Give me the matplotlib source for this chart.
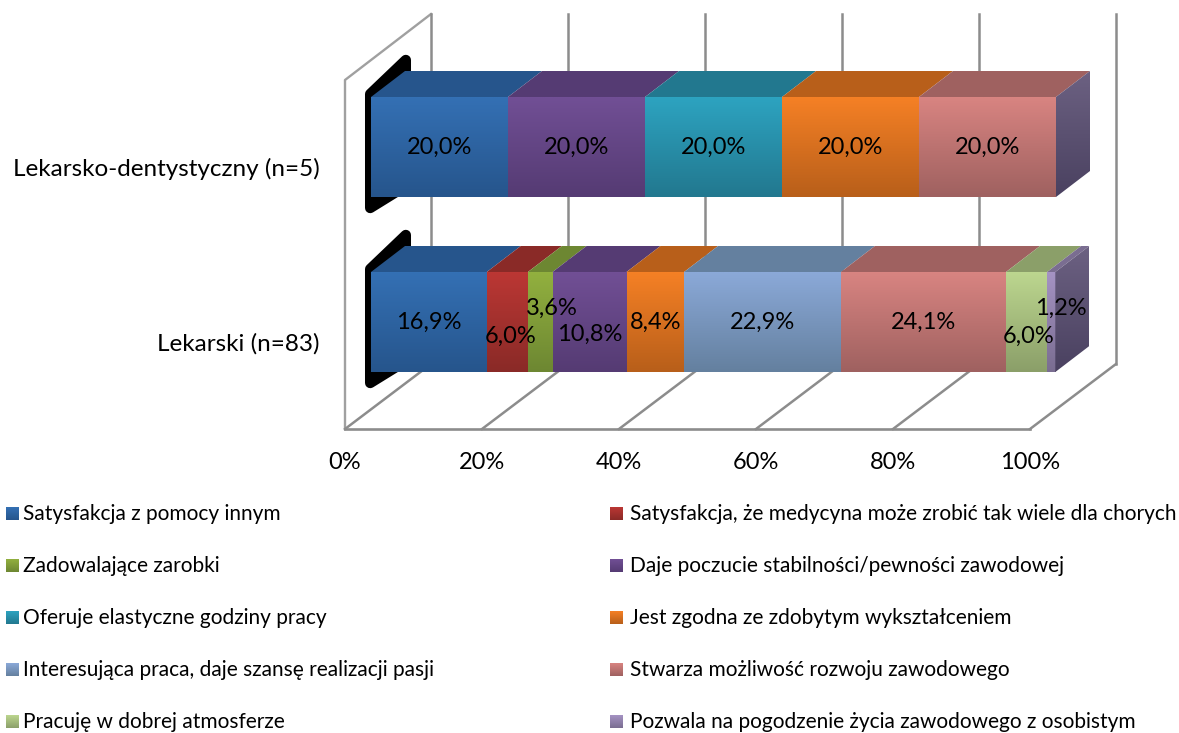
import numpy as np
import matplotlib
matplotlib.use('Agg')
from matplotlib import pyplot as plt
from matplotlib.patches import Polygon

W, H = 1179, 733
FONT = 'Lato'

categories = ['Lekarski (n=83)', 'Lekarsko-dentystyczny (n=5)']
series_names = [
    'Satysfakcja z pomocy innym',
    'Satysfakcja, że medycyna może zrobić tak wiele dla chorych',
    'Zadowalające zarobki',
    'Daje poczucie stabilności/pewności zawodowej',
    'Oferuje elastyczne godziny pracy',
    'Jest zgodna ze zdobytym wykształceniem',
    'Interesująca praca, daje szansę realizacji pasji',
    'Stwarza możliwość rozwoju zawodowego',
    'Pracuję w dobrej atmosferze',
    'Pozwala na pogodzenie życia zawodowego z osobistym',
]
lekarski = [16.9, 6.0, 3.6, 10.8, 0, 8.4, 22.9, 24.1, 6.0, 1.2]
dentysta = [20.0, 0, 0, 20.0, 20.0, 20.0, 0, 20.0, 0, 0]

# face colours: light end of front, dark end of front (also the top face)
light = ['#3470b4', '#bb3734', '#92b03f', '#714f95', '#2da3c0',
         '#f58025', '#8ba9d8', '#d88481', '#bcd68f', '#a593c3']
dark = ['#26558c', '#8a2a27', '#6d8732', '#553b73', '#22788f',
        '#b85f1a', '#64809f', '#9f6160', '#8b9f69', '#7a6d91']
side_light, side_dark = '#6c6182', '#4a4160'

# pixel layout of the fake 3D box
X0, X100, X_RIGHT = 345, 1030, 1120
FLOOR_Y, TOP_Y = 429, 14
PX = (X100 - X0) / 100
ROW_Y0, ROW_STEP = 322, 175
BAR_H = 100 / ROW_STEP
BAR_X0 = 26 / PX
DX_BAR, DY_BAR = 34 / PX, 26 / ROW_STEP
DX_BOX, DY_BOX = 86 / PX, 65 / ROW_STEP

def py(y):
    """ pixel row -> data y """
    return (ROW_Y0 - y) / ROW_STEP

def px(x):
    """ pixel column -> data x """
    return (x - X0) / PX

def rgb(c):
    return np.array(matplotlib.colors.to_rgb(c))

def gradient(ax, c1, c2, extent, clip=None):
    t = np.linspace(0, 1, 64)[:, None]
    img = rgb(c1) * (1 - t[..., None]) + rgb(c2) * t[..., None]
    im = ax.imshow(img, extent=extent, aspect='auto', interpolation='bilinear',
                   origin='upper', zorder=3)
    if clip is not None:
        im.set_clip_path(clip)
    return im

fig = plt.figure(figsize=(W / 100, H / 100), dpi=100)
ax = fig.add_axes([X0 / W, 1 - FLOOR_Y / H, (X_RIGHT - X0) / W, (FLOOR_Y - TOP_Y) / H])

# walls and gridlines
grid = '#8c8c8c'
ybot, ytop = py(FLOOR_Y), py(TOP_Y)
ax.plot([0, 0, DX_BOX], [ybot, py(80), ytop], color='#a0a0a0', lw=1.7, zorder=1, clip_on=False)
ax.plot([0, 100], [ybot, ybot], color=grid, lw=1.9, zorder=1, clip_on=False)
for v in range(0, 101, 20):
    ax.plot([v, v + DX_BOX], [ybot, ybot + DY_BOX], color=grid, lw=1.8, zorder=1, clip_on=False)
    ax.plot([v + DX_BOX, v + DX_BOX], [ybot + DY_BOX, ytop], color=grid, lw=1.8, zorder=1, clip_on=False)

rows = [dentysta, lekarski]
row_pos = [1, 0]
for row, values in zip(row_pos, rows):
    b, t = row - BAR_H / 2, row + BAR_H / 2

    # the black left face of the empty series
    blob = Polygon([(px(370.2), t + 3 / ROW_STEP), (px(405.8), t + 37 / ROW_STEP),
                    (px(405.8), b + 11 / ROW_STEP), (px(370.2), b - 11 / ROW_STEP)],
                   closed=True, fc='black', ec='black', lw=7.5, joinstyle='round', zorder=2)
    ax.add_patch(blob)

    left = 0
    for i, v in enumerate(values):
        if v == 0:
            continue
        x1, x2 = BAR_X0 + left, BAR_X0 + left + v
        ax.add_patch(Polygon([(x1, t), (x2, t), (x2 + DX_BAR, t + DY_BAR), (x1 + DX_BAR, t + DY_BAR)],
                             closed=True, fc=dark[i], ec='none', zorder=3))
        gradient(ax, light[i], dark[i], [x1, x2, b, t])
        left += v

    # right end of the bar
    xe = BAR_X0 + left
    side = Polygon([(xe, t), (xe + DX_BAR, t + DY_BAR), (xe + DX_BAR, b + DY_BAR), (xe, b)],
                   closed=True, fc='none', ec='none', transform=ax.transData)
    ax.add_patch(side)
    gradient(ax, side_light, side_dark, [xe, xe + DX_BAR, b, t + DY_BAR], clip=side)

# data labels, the narrow ones are pushed aside the way the original has them
label_shift = {(0, 1): (3, 14), (0, 2): (12, -14), (0, 3): (0, 12), (0, 8): (2, 14), (0, 9): (10, -14)}
for row, values in zip(row_pos, rows):
    left = 0
    for i, v in enumerate(values):
        if v == 0:
            continue
        dx, dy = label_shift.get((row, i), (0, 0))
        ax.text(BAR_X0 + left + v / 2 + dx / PX, row - dy / ROW_STEP,
                f'{v:.1f}%'.replace('.', ','), ha='center', va='center',
                fontsize=17, family=FONT, color='black', zorder=6)
        left += v

ax.set_xlim(0, (X_RIGHT - X0) / PX)
ax.set_ylim(ybot, ytop)
ax.set_xticks(range(0, 101, 20))
ax.set_xticklabels([f'{v}%' for v in range(0, 101, 20)], fontsize=17, family=FONT)
# the category labels sit lower than the bars, level with the floor of each row
ax.set_yticks([p - 20 / ROW_STEP for p in row_pos[::-1]])
ax.set_yticklabels(categories, fontsize=17.5, family=FONT)
ax.tick_params(axis='x', length=0, pad=16.5)
ax.tick_params(axis='y', length=0, pad=18.5)
for s in ax.spines.values():
    s.set_visible(False)
ax.patch.set_alpha(0)

# legend, two columns filled row by row
leg = fig.add_axes([0, 0, 1, 1])
leg.set_xlim(0, W)
leg.set_ylim(H, 0)
leg.axis('off')
for i, name in enumerate(series_names):
    col, r = i % 2, i // 2
    x = 6 if col == 0 else 610
    y = 514 + 52 * r
    gradient(leg, light[i], dark[i], [x, x + 13, y + 6.5, y - 6.5])
    leg.text(x + 17 if col == 0 else x + 20, y + 0.5, name, ha='left', va='center',
             fontsize=15, family=FONT, color='black')
leg.set_xlim(0, W)
leg.set_ylim(H, 0)

fig.savefig('out.png', dpi=100)
